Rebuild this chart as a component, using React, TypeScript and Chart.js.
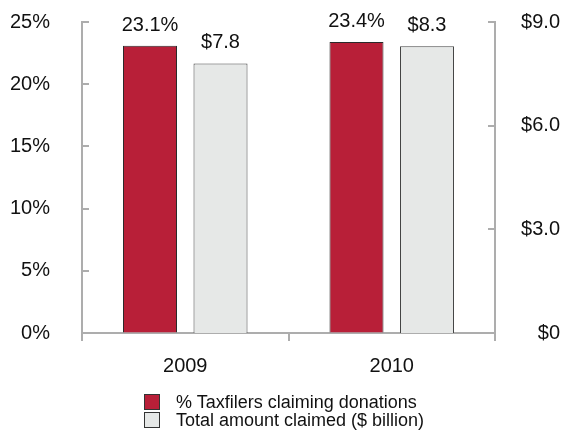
import React, { useEffect, useRef } from "react";
import { Chart, registerables } from "chart.js";

Chart.register(...registerables);

const categories = ["2009", "2010"];
const pctTaxfilers = [23.1, 23.4];
const amountClaimed = [7.8, 8.3];
const seriesNames = ["% Taxfilers claiming donations", "Total amount claimed ($ billion)"];
const seriesColors = ["#B81F38", "#E6E8E7"];
const seriesBorders = ["#2a2a2a", "#444444"];

const FONT = "'Liberation Sans', Arial, Helvetica, sans-serif";
const AXIS_COLOR = "#ADADAD";

const inwardTicks = {
  id: "inwardTicks",
  afterDraw(chart: any) {
    const ctx = chart.ctx;
    ctx.save();
    ctx.strokeStyle = AXIS_COLOR;
    ctx.lineWidth = 2;
    const yl = chart.scales.y;
    yl.ticks.forEach((t: any) => {
      const py = Math.round(yl.getPixelForValue(t.value));
      ctx.beginPath();
      ctx.moveTo(yl.right, py);
      ctx.lineTo(yl.right + 7, py);
      ctx.stroke();
    });
    const yr = chart.scales.y1;
    yr.ticks.forEach((t: any) => {
      const py = Math.round(yr.getPixelForValue(t.value));
      ctx.beginPath();
      ctx.moveTo(yr.left - 7, py);
      ctx.lineTo(yr.left, py);
      ctx.stroke();
    });
    ctx.restore();
  },
};

const valueLabels = {
  id: "valueLabels",
  afterDatasetsDraw(chart: any) {
    const ctx = chart.ctx;
    ctx.save();
    ctx.font = `20px ${FONT}`;
    ctx.fillStyle = "#111";
    ctx.textAlign = "center";
    ctx.textBaseline = "alphabetic";
    chart.data.datasets.forEach((ds: any, i: number) => {
      const meta = chart.getDatasetMeta(i);
      meta.data.forEach((el: any, j: number) => {
        const v = ds.data[j] as number;
        const txt = i === 0 ? `${v.toFixed(1)}%` : `$${v.toFixed(1)}`;
        ctx.fillText(txt, el.x, el.y - 15);
      });
    });
    ctx.restore();
  },
};

export default function App() {
  const ref = useRef<HTMLCanvasElement>(null);
  useEffect(() => {
    if (!ref.current) return;
    const chart = new Chart(ref.current, {
      type: "bar",
      data: {
        labels: categories,
        datasets: [
          {
            label: seriesNames[0],
            data: pctTaxfilers,
            backgroundColor: seriesColors[0],
            borderColor: seriesBorders[0],
            borderWidth: 1,
            yAxisID: "y",
            categoryPercentage: 0.683,
            barPercentage: 0.766,
          },
          {
            label: seriesNames[1],
            data: amountClaimed,
            backgroundColor: seriesColors[1],
            borderColor: seriesBorders[1],
            borderWidth: 1,
            yAxisID: "y1",
            categoryPercentage: 0.683,
            barPercentage: 0.766,
          },
        ],
      },
      options: {
        animation: false,
        responsive: false,
        maintainAspectRatio: false,
        layout: { padding: { top: 22, right: 4, left: 0, bottom: 0 } },
        plugins: { legend: { display: false }, tooltip: { enabled: false } },
        scales: {
          x: {
            grid: { drawOnChartArea: false, drawTicks: true, tickLength: 8, color: AXIS_COLOR, lineWidth: 2 },
            border: { display: true, color: AXIS_COLOR, width: 2 },
            ticks: { color: "#111", font: { family: FONT, size: 20 }, padding: 13 },
            afterFit: (s: any) => { s.height = 99; },
          },
          y: {
            position: "left",
            min: 0,
            max: 25,
            grid: { display: true, drawOnChartArea: false, drawTicks: true, tickLength: 32, color: "rgba(0,0,0,0)" },
            border: { display: true, color: AXIS_COLOR, width: 2 },
            ticks: {
              stepSize: 5,
              color: "#111",
              font: { family: FONT, size: 20 },
              padding: 0,
              callback: (v: any) => `${v}%`,
            },
            afterFit: (s: any) => { s.width = 82; },
          },
          y1: {
            position: "right",
            min: 0,
            max: 9,
            grid: { display: false },
            border: { display: true, color: AXIS_COLOR, width: 2 },
            ticks: {
              stepSize: 3,
              color: "#111",
              font: { family: FONT, size: 20 },
              crossAlign: "far",
              padding: 0,
              callback: (v: any) => (v === 0 ? "$0" : `$${Number(v).toFixed(1)}`),
            },
            afterFit: (s: any) => { s.width = 65; },
          },
        },
      },
      plugins: [inwardTicks, valueLabels],
    });
    return () => chart.destroy();
  }, []);

  return (
    <div style={{ position: "absolute", left: 0, top: 0, width: 564, height: 432, background: "#fff" }}>
      <canvas ref={ref} width={564} height={432} style={{ position: "absolute", left: 0, top: 0 }} />
      <div
        style={{
          position: "absolute",
          left: 144,
          top: 393,
          fontFamily: FONT,
          fontSize: 18,
          color: "#111",
          lineHeight: "18px",
        }}
      >
        {seriesNames.map((name, i) => (
          <div key={name} style={{ display: "flex", alignItems: "center", height: 18 }}>
            <span
              style={{
                display: "inline-block",
                width: 14,
                height: 14,
                background: seriesColors[i],
                border: "1px solid #333",
                marginRight: 16,
              }}
            />
            <span>{name}</span>
          </div>
        ))}
      </div>
    </div>
  );
}
